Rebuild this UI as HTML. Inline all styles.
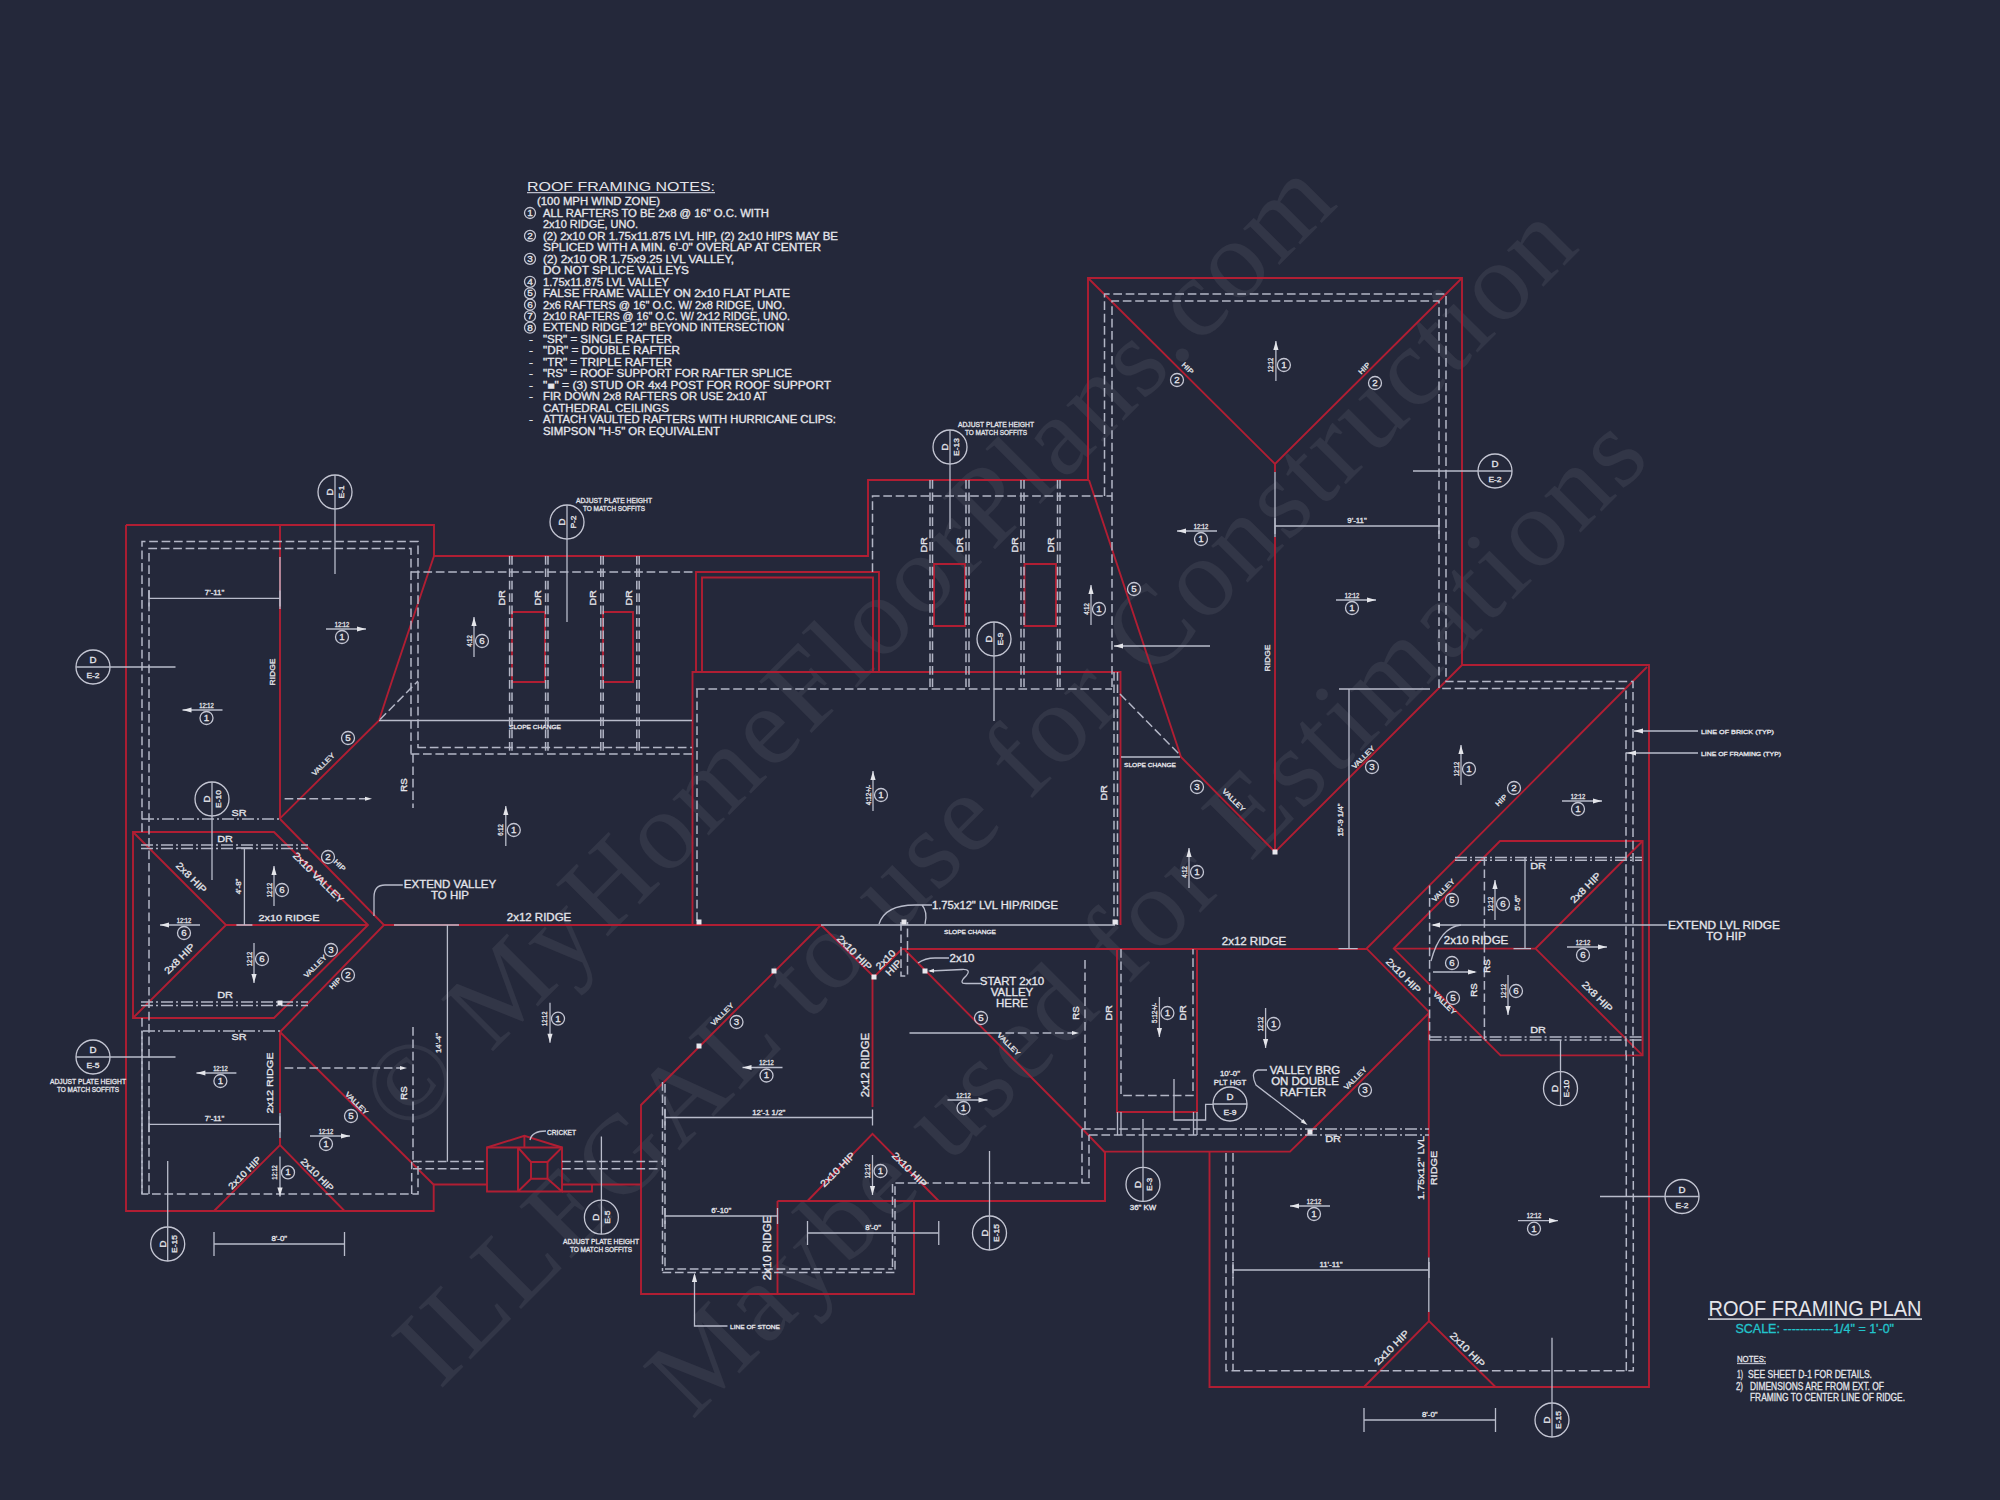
<!DOCTYPE html>
<html><head><meta charset="utf-8"><title>Roof Framing Plan</title>
<style>
html,body{margin:0;padding:0;background:#24283a;}
body{width:2000px;height:1500px;overflow:hidden;}
svg{display:block;}
.r{fill:none;stroke:#b01e33;stroke-width:1.9;stroke-linejoin:miter;}
.d{fill:none;stroke:#b3b6c6;stroke-width:1.5;stroke-dasharray:8.7 3.7;}
.dd{fill:none;stroke:#b3b6c6;stroke-width:1.5;stroke-dasharray:12 3 2 3;}
.w{fill:none;stroke:#b9bccb;stroke-width:1.3;}
.c{fill:none;stroke:#c4c6d3;stroke-width:1.3;}
.t{font-family:"Liberation Sans",sans-serif;fill:#e4e5ea;stroke:#e4e5ea;stroke-width:0.3;}
.tn{font-family:"Liberation Sans",sans-serif;fill:#e4e5ea;}
.wm{font-family:"Liberation Serif",serif;fill:#ffffff;fill-opacity:0.065;}
.cy{font-family:"Liberation Sans",sans-serif;fill:#22c4cc;stroke:#22c4cc;stroke-width:0.3;}
</style></head>
<body>
<svg width="2000" height="1500" viewBox="0 0 2000 1500">
<rect width="2000" height="1500" fill="#24283a"/>
<text x="405.9" y="1138.4" font-size="112" textLength="1320" lengthAdjust="spacing" class="wm" transform="rotate(-45 405.9 1138.4)">© MyHomeFloorPlans.com</text>
<text x="439.8" y="1390.2" font-size="112" textLength="1614" lengthAdjust="spacing" class="wm" transform="rotate(-45 439.8 1390.2)">ILLEGAL to use for Construction</text>
<text x="692.3" y="1420.6" font-size="112" textLength="1357" lengthAdjust="spacing" class="wm" transform="rotate(-45 692.3 1420.6)">Maybe used for Estimations</text>
<text x="527" y="190.6" font-size="13.5" text-anchor="start" class="tn" textLength="188" lengthAdjust="spacingAndGlyphs">ROOF FRAMING NOTES:</text>
<path d="M527,192.6H715" class="w"/>
<text x="537" y="205.3" font-size="10" text-anchor="start" class="t" textLength="123" lengthAdjust="spacingAndGlyphs">(100 MPH WIND ZONE)</text>
<text x="543" y="216.77" font-size="10" text-anchor="start" class="t" textLength="226" lengthAdjust="spacingAndGlyphs">ALL RAFTERS TO BE 2x8 @ 16" O.C. WITH</text>
<circle cx="530" cy="213.0" r="5.5" class="c"/>
<text x="530" y="215.97" font-size="8.964000000000002" text-anchor="middle" class="t" textLength="5.6" lengthAdjust="spacingAndGlyphs">1</text>
<text x="543" y="228.24" font-size="10" text-anchor="start" class="t" textLength="95" lengthAdjust="spacingAndGlyphs">2x10 RIDGE, UNO.</text>
<text x="543" y="239.71" font-size="10" text-anchor="start" class="t" textLength="295" lengthAdjust="spacingAndGlyphs">(2) 2x10 OR 1.75x11.875 LVL HIP, (2) 2x10 HIPS MAY BE</text>
<circle cx="530" cy="235.9" r="5.5" class="c"/>
<text x="530" y="238.91" font-size="8.964000000000002" text-anchor="middle" class="t" textLength="5.6" lengthAdjust="spacingAndGlyphs">2</text>
<text x="543" y="251.18" font-size="10" text-anchor="start" class="t" textLength="278" lengthAdjust="spacingAndGlyphs">SPLICED WITH A MIN. 6'-0" OVERLAP AT CENTER</text>
<text x="543" y="262.65000000000003" font-size="10" text-anchor="start" class="t" textLength="191" lengthAdjust="spacingAndGlyphs">(2) 2x10 OR 1.75x9.25 LVL VALLEY,</text>
<circle cx="530" cy="258.9" r="5.5" class="c"/>
<text x="530" y="261.85" font-size="8.964000000000002" text-anchor="middle" class="t" textLength="5.6" lengthAdjust="spacingAndGlyphs">3</text>
<text x="543" y="274.12" font-size="10" text-anchor="start" class="t" textLength="146" lengthAdjust="spacingAndGlyphs">DO NOT SPLICE VALLEYS</text>
<text x="543" y="285.59000000000003" font-size="10" text-anchor="start" class="t" textLength="126" lengthAdjust="spacingAndGlyphs">1.75x11.875 LVL VALLEY</text>
<circle cx="530" cy="281.8" r="5.5" class="c"/>
<text x="530" y="284.79" font-size="8.964000000000002" text-anchor="middle" class="t" textLength="5.6" lengthAdjust="spacingAndGlyphs">4</text>
<text x="543" y="297.06" font-size="10" text-anchor="start" class="t" textLength="247" lengthAdjust="spacingAndGlyphs">FALSE FRAME VALLEY ON 2x10 FLAT PLATE</text>
<circle cx="530" cy="293.3" r="5.5" class="c"/>
<text x="530" y="296.26" font-size="8.964000000000002" text-anchor="middle" class="t" textLength="5.6" lengthAdjust="spacingAndGlyphs">5</text>
<text x="543" y="308.53000000000003" font-size="10" text-anchor="start" class="t" textLength="242" lengthAdjust="spacingAndGlyphs">2x6 RAFTERS @ 16" O.C. W/ 2x8 RIDGE, UNO.</text>
<circle cx="530" cy="304.7" r="5.5" class="c"/>
<text x="530" y="307.73" font-size="8.964000000000002" text-anchor="middle" class="t" textLength="5.6" lengthAdjust="spacingAndGlyphs">6</text>
<text x="543" y="320.0" font-size="10" text-anchor="start" class="t" textLength="247" lengthAdjust="spacingAndGlyphs">2x10 RAFTERS @ 16" O.C. W/ 2x12 RIDGE, UNO.</text>
<circle cx="530" cy="316.2" r="5.5" class="c"/>
<text x="530" y="319.2" font-size="8.964000000000002" text-anchor="middle" class="t" textLength="5.6" lengthAdjust="spacingAndGlyphs">7</text>
<text x="543" y="331.47" font-size="10" text-anchor="start" class="t" textLength="241" lengthAdjust="spacingAndGlyphs">EXTEND RIDGE 12" BEYOND INTERSECTION</text>
<circle cx="530" cy="327.7" r="5.5" class="c"/>
<text x="530" y="330.67" font-size="8.964000000000002" text-anchor="middle" class="t" textLength="5.6" lengthAdjust="spacingAndGlyphs">8</text>
<text x="543" y="342.94" font-size="10" text-anchor="start" class="t" textLength="129" lengthAdjust="spacingAndGlyphs">"SR" = SINGLE RAFTER</text>
<text x="531" y="342.94" font-size="10.8" text-anchor="middle" class="t" textLength="4.0" lengthAdjust="spacingAndGlyphs">-</text>
<text x="543" y="354.41" font-size="10" text-anchor="start" class="t" textLength="137" lengthAdjust="spacingAndGlyphs">"DR" = DOUBLE RAFTER</text>
<text x="531" y="354.41" font-size="10.8" text-anchor="middle" class="t" textLength="4.0" lengthAdjust="spacingAndGlyphs">-</text>
<text x="543" y="365.88000000000005" font-size="10" text-anchor="start" class="t" textLength="129" lengthAdjust="spacingAndGlyphs">"TR" = TRIPLE RAFTER</text>
<text x="531" y="365.88000000000005" font-size="10.8" text-anchor="middle" class="t" textLength="4.0" lengthAdjust="spacingAndGlyphs">-</text>
<text x="543" y="377.35" font-size="10" text-anchor="start" class="t" textLength="249" lengthAdjust="spacingAndGlyphs">"RS" = ROOF SUPPORT FOR RAFTER SPLICE</text>
<text x="531" y="377.35" font-size="10.8" text-anchor="middle" class="t" textLength="4.0" lengthAdjust="spacingAndGlyphs">-</text>
<text x="543" y="388.82" font-size="10" text-anchor="start" class="t" textLength="288" lengthAdjust="spacingAndGlyphs">"■"   = (3) STUD OR 4x4 POST FOR ROOF SUPPORT</text>
<text x="531" y="388.82" font-size="10.8" text-anchor="middle" class="t" textLength="4.0" lengthAdjust="spacingAndGlyphs">-</text>
<text x="543" y="400.29" font-size="10" text-anchor="start" class="t" textLength="224" lengthAdjust="spacingAndGlyphs">FIR DOWN 2x8 RAFTERS OR USE 2x10 AT</text>
<text x="531" y="400.29" font-size="10.8" text-anchor="middle" class="t" textLength="4.0" lengthAdjust="spacingAndGlyphs">-</text>
<text x="543" y="411.76000000000005" font-size="10" text-anchor="start" class="t" textLength="126" lengthAdjust="spacingAndGlyphs">CATHEDRAL CEILINGS</text>
<text x="543" y="423.23" font-size="10" text-anchor="start" class="t" textLength="293" lengthAdjust="spacingAndGlyphs">ATTACH VAULTED RAFTERS WITH HURRICANE CLIPS:</text>
<text x="531" y="423.23" font-size="10.8" text-anchor="middle" class="t" textLength="4.0" lengthAdjust="spacingAndGlyphs">-</text>
<text x="543" y="434.7" font-size="10" text-anchor="start" class="t" textLength="177" lengthAdjust="spacingAndGlyphs">SIMPSON "H-5" OR EQUIVALENT</text>
<path d="M126,525V1211H433.7V1184.8" class="r"/>
<path d="M126,525H434V556H868V480H1089" class="r"/>
<path d="M280,525V819" class="r"/>
<path d="M434,556Q392,680 379,720.5L280,818.4" class="r"/>
<path d="M380,719.5L418,681" class="d"/>
<path d="M274,832H133V1018H274L368,925Z" class="r"/>
<path d="M133,832L226,925L133,1018" class="r"/>
<path d="M226,925H368" class="r"/>
<path d="M280,819L384,925L280,1032" class="r"/>
<path d="M280,1032V1113M280,1138V1145" class="r"/>
<path d="M214,1211L280,1145L344.5,1211" class="r"/>
<path d="M280,1032L434,1185" class="r"/>
<path d="M433.7,1184.5H487M562,1184.5H641M562,1191.5H592V1184.5" class="r"/>
<path d="M487,1147.5H562V1191.5H487Z" class="r"/>
<path d="M518,1147.5V1191.5" class="r"/>
<path d="M531,1162H547.5V1178.7H531Z" class="r"/>
<path d="M518,1147.5L531,1162M562,1147.5L547.5,1162M518,1191.5L531,1178.7M562,1191.5L547.5,1178.7" class="r"/>
<path d="M487,1147.5L524.4,1135.8L562,1147.5M524.4,1135.8V1147.5" class="r"/>
<path d="M512,612H545V682H512Z" class="r"/>
<path d="M603,612H633V682H603Z" class="r"/>
<path d="M696,672V572H879V672M702,672V577.5H873V672" class="r"/>
<path d="M692.5,925V672H1120.5V925" class="r"/>
<path d="M934,564H965V626H934Z" class="r"/>
<path d="M1024.5,564H1056V626H1024.5Z" class="r"/>
<path d="M1088,480V278H1462V665H1649V1387H1209.5V1151.6" class="r"/>
<path d="M1088,278L1275,464L1462,278" class="r"/>
<path d="M1275,464V472M1275,537V852" class="r"/>
<path d="M1089,480L1181,757L1275,852L1462,665" class="r"/>
<path d="M384,925H821" class="r"/>
<path d="M821,925L641,1105V1294H914V1201" class="r"/>
<path d="M777.5,1201H1105V1152.5L1082.5,1129L905,950" class="r"/>
<path d="M777.5,1201V1294" class="r"/>
<path d="M807.5,1201L872.5,1133.75L938.75,1201" class="r"/>
<path d="M872.5,977V1107" class="r"/>
<path d="M821,925L874,977L902,949" class="r"/>
<path d="M902,949H1367" class="r"/>
<path d="M1647,667L1366.6,948.6L1428.8,1011.6" class="r"/>
<path d="M1500,841H1642.6V1055.4H1500.5L1393.8,948.6Z" class="r"/>
<path d="M1393.8,948.6H1535.5" class="r"/>
<path d="M1642.6,841L1535.5,948.6L1642.6,1055.4" class="r"/>
<path d="M1428.8,1011.6V1257.6M1428.8,1312V1321" class="r"/>
<path d="M1364,1387L1429,1321L1495.5,1387" class="r"/>
<path d="M1429,1013L1310,1132L1290,1151.6H1105V1201" class="r"/>
<path d="M1117,949V1112H1197V949" class="r"/>
<path d="M142,1194V1031M142,832V541.6H418V747.5" class="d"/>
<path d="M149,1194V548.6H411V754" class="d"/>
<path d="M142,1018V1194H418V1161.7M411.7,1194V1161.7" class="d"/>
<path d="M142,819H280" class="dd"/>
<path d="M141,845H308M141,848.5H308" class="dd"/>
<path d="M141,1002H308M141,1005.5H308" class="dd"/>
<path d="M143,1031H280" class="dd"/>
<path d="M413,1027V1161.7" class="d"/>
<path d="M284.6,798.8H368" class="d"/>
<path d="M372.0,798.8L365.0,800.8L365.0,796.8Z" fill="#e4e5ea"/>
<path d="M284.6,1068H403" class="d"/>
<path d="M407.0,1068.0L400.0,1070.0L400.0,1066.0Z" fill="#e4e5ea"/>
<path d="M411,572H696" class="d"/>
<path d="M417.4,747.5H692M410.6,754H692" class="d"/>
<path d="M509.6,556V754" class="d"/>
<path d="M512,556V754" class="d"/>
<path d="M545.6,556V754" class="d"/>
<path d="M548,556V754" class="d"/>
<path d="M600.8,556V754" class="d"/>
<path d="M603.2,556V754" class="d"/>
<path d="M636.8,556V754" class="d"/>
<path d="M639.2,556V754" class="d"/>
<path d="M413,754V808" class="d"/>
<path d="M872.5,572V496H1112" class="d"/>
<path d="M696,689H1112" class="d"/>
<path d="M697,689V922" class="d"/>
<path d="M930,480V689" class="d"/>
<path d="M932.5,480V689" class="d"/>
<path d="M966,480V689" class="d"/>
<path d="M969,480V689" class="d"/>
<path d="M1021,480V689" class="d"/>
<path d="M1024,480V689" class="d"/>
<path d="M1057.5,480V689" class="d"/>
<path d="M1060,480V689" class="d"/>
<path d="M1104.5,496V294H1446V681.6H1633V1055" class="d"/>
<path d="M1112,687V301H1439V688.4H1626V1055" class="d"/>
<path d="M1114,672V925M1117.5,672V925" class="d"/>
<path d="M1120,694L1180,755" class="d"/>
<path d="M1121,949V1095.6H1193V949" class="d"/>
<path d="M901,922V976H907.5V922" class="d"/>
<path d="M909.5,1033H993" class="w"/>
<path d="M993,1033H1075" class="d"/>
<path d="M1079.0,1033.0L1072.0,1035.0L1072.0,1031.0Z" fill="#e4e5ea"/>
<path d="M1085,960V1129" class="d"/>
<path d="M662.5,1082V1271M665,1084V1269" class="d"/>
<path d="M662.5,1272.5H895V1183H1089V1135" class="d"/>
<path d="M665,1269H892.5" class="d"/>
<path d="M892.5,1184V1269" class="d"/>
<path d="M413,1161.5H487M562,1161.5H662M413,1168.8H487M562,1168.8H662" class="d"/>
<path d="M1082,1129H1225M1089,1135H1225" class="d"/>
<path d="M1225,1129H1429M1225,1135H1429" class="dd"/>
<path d="M1082,1129V1183" class="d"/>
<path d="M1117.5,1112V1135M1121,1112V1135M1193.5,1112V1135M1197,1112V1135" fill="none" stroke="#b3b6c6" stroke-width="1.3"/>
<path d="M1226,1153V1370.7H1633.3V1055M1233,1153V1370.7M1626.3,1370.7V1055" class="d"/>
<path d="M1455,857.6H1642M1455,860.3H1642" class="dd"/>
<path d="M1429.6,1037H1642M1429.6,1040H1642" class="dd"/>
<path d="M1429.6,885.6V1040" class="d"/>
<path d="M1484.4,857V1040" class="d"/>
<path d="M1275,472V537" class="w"/>
<path d="M280,1113V1138" class="w"/>
<path d="M821,925H1115" class="w"/>
<path d="M379,720.5H692" class="w"/>
<path d="M1121,757H1180" class="w"/>
<path d="M394,925H459" class="w"/>
<path d="M1428.8,1257.6V1312" class="w"/>
<rect x="696.5" y="919.5" width="5" height="5" fill="#e8e8ee"/>
<rect x="901.5" y="919.5" width="5" height="5" fill="#e8e8ee"/>
<rect x="1112.5" y="919.5" width="5" height="5" fill="#e8e8ee"/>
<rect x="277.5" y="1000.5" width="5" height="5" fill="#e8e8ee"/>
<rect x="771.5" y="968.5" width="5" height="5" fill="#e8e8ee"/>
<rect x="696.5" y="1043.5" width="5" height="5" fill="#e8e8ee"/>
<rect x="871.5" y="974.5" width="5" height="5" fill="#e8e8ee"/>
<rect x="922.5" y="968.5" width="5" height="5" fill="#e8e8ee"/>
<rect x="1272.5" y="849.5" width="5" height="5" fill="#e8e8ee"/>
<rect x="1307.5" y="1129.5" width="5" height="5" fill="#e8e8ee"/>
<path d="M149,598.4H280" class="w"/>
<path d="M149,590.4V606.4M280,590.4V606.4" class="w"/>
<text x="214.5" y="595.4" font-size="7.0200000000000005" text-anchor="middle" class="t" textLength="19.4" lengthAdjust="spacingAndGlyphs">7'-11"</text>
<path d="M280,557V609" class="w"/>
<path d="M244.4,848V925" class="w"/>
<path d="M236.4,848H252.4M236.4,925H252.4" class="w"/>
<text x="241.4" y="886.5" font-size="7.0200000000000005" text-anchor="middle" class="t" textLength="15.7" lengthAdjust="spacingAndGlyphs" transform="rotate(-90 241.4 886.5)">4'-8"</text>
<path d="M149,1124.3H280" class="w"/>
<path d="M149,1116.3V1132.3M280,1116.3V1132.3" class="w"/>
<text x="214.5" y="1121.3" font-size="7.0200000000000005" text-anchor="middle" class="t" textLength="19.4" lengthAdjust="spacingAndGlyphs">7'-11"</text>
<path d="M214,1244H344.5" class="w"/>
<path d="M214,1232V1256M344.5,1232V1256" class="w"/>
<text x="279.25" y="1241" font-size="7.0200000000000005" text-anchor="middle" class="t" textLength="15.7" lengthAdjust="spacingAndGlyphs">8'-0"</text>
<path d="M447.4,925V1161.7" class="w"/>
<text x="441" y="1043" font-size="7.0200000000000005" text-anchor="middle" class="t" textLength="20.0" lengthAdjust="spacingAndGlyphs" transform="rotate(-90 441 1043)">14'-4"</text>
<path d="M1275,526H1439" class="w"/>
<path d="M1275,518V534M1439,518V534" class="w"/>
<text x="1357.0" y="523" font-size="7.0200000000000005" text-anchor="middle" class="t" textLength="19.4" lengthAdjust="spacingAndGlyphs">9'-11"</text>
<path d="M1339,689H1430M1349,689V949" class="w"/>
<text x="1343" y="820" font-size="7.0200000000000005" text-anchor="middle" class="t" textLength="33.1" lengthAdjust="spacingAndGlyphs" transform="rotate(-90 1343 820)">15'-9 1/4"</text>
<path d="M665,1117.5H872.5" class="w"/>
<path d="M665,1109.5V1125.5M872.5,1109.5V1125.5" class="w"/>
<text x="768.75" y="1114.5" font-size="7.0200000000000005" text-anchor="middle" class="t" textLength="33.1" lengthAdjust="spacingAndGlyphs">12'-1 1/2"</text>
<path d="M665,1216H777.5" class="w"/>
<path d="M665,1208V1224M777.5,1208V1224" class="w"/>
<text x="721.25" y="1213" font-size="7.0200000000000005" text-anchor="middle" class="t" textLength="20.0" lengthAdjust="spacingAndGlyphs">6'-10"</text>
<path d="M807.5,1233H938.75" class="w"/>
<path d="M807.5,1221V1245M938.75,1221V1245" class="w"/>
<text x="873.125" y="1230" font-size="7.0200000000000005" text-anchor="middle" class="t" textLength="15.7" lengthAdjust="spacingAndGlyphs">8'-0"</text>
<path d="M1233,1270H1429" class="w"/>
<path d="M1233,1262V1278M1429,1262V1278" class="w"/>
<text x="1331.0" y="1267" font-size="7.0200000000000005" text-anchor="middle" class="t" textLength="23.2" lengthAdjust="spacingAndGlyphs">11'-11"</text>
<path d="M1364,1420H1495.5" class="w"/>
<path d="M1364,1408V1432M1495.5,1408V1432" class="w"/>
<text x="1429.75" y="1417" font-size="7.0200000000000005" text-anchor="middle" class="t" textLength="15.7" lengthAdjust="spacingAndGlyphs">8'-0"</text>
<path d="M1525,857V948" class="w"/>
<text x="1520" y="903" font-size="7.0200000000000005" text-anchor="middle" class="t" textLength="15.7" lengthAdjust="spacingAndGlyphs" transform="rotate(-90 1520 903)">5'-6"</text>
<circle cx="335" cy="492" r="17" class="c"/>
<path d="M335,475V509" class="w"/>
<text x="330" y="492" font-size="8.64" text-anchor="middle" class="t" textLength="7.0" lengthAdjust="spacingAndGlyphs" transform="rotate(-90 330 492)" dy="3">D</text>
<text x="341" y="492" font-size="7.5600000000000005" text-anchor="middle" class="t" textLength="13.2" lengthAdjust="spacingAndGlyphs" transform="rotate(-90 341 492)" dy="3">E-1</text>
<path d="M335,509V574" class="w"/>
<circle cx="93" cy="667" r="17" class="c"/>
<path d="M76,667H110" class="w"/>
<text x="93" y="663" font-size="8.64" text-anchor="middle" class="t" textLength="7.0" lengthAdjust="spacingAndGlyphs">D</text>
<text x="93" y="678" font-size="7.5600000000000005" text-anchor="middle" class="t" textLength="13.2" lengthAdjust="spacingAndGlyphs">E-2</text>
<path d="M110,667H175.5" class="w"/>
<circle cx="212" cy="799" r="17" class="c"/>
<path d="M212,782V816" class="w"/>
<text x="207" y="799" font-size="8.64" text-anchor="middle" class="t" textLength="7.0" lengthAdjust="spacingAndGlyphs" transform="rotate(-90 207 799)" dy="3">D</text>
<text x="218" y="799" font-size="7.5600000000000005" text-anchor="middle" class="t" textLength="17.9" lengthAdjust="spacingAndGlyphs" transform="rotate(-90 218 799)" dy="3">E-10</text>
<path d="M212,816V880" class="w"/>
<circle cx="93" cy="1057" r="17" class="c"/>
<path d="M76,1057H110" class="w"/>
<text x="93" y="1053" font-size="8.64" text-anchor="middle" class="t" textLength="7.0" lengthAdjust="spacingAndGlyphs">D</text>
<text x="93" y="1068" font-size="7.5600000000000005" text-anchor="middle" class="t" textLength="13.2" lengthAdjust="spacingAndGlyphs">E-5</text>
<path d="M110,1057H175.5" class="w"/>
<circle cx="167.7" cy="1244" r="17" class="c"/>
<path d="M167.7,1227V1261" class="w"/>
<text x="162.7" y="1244" font-size="8.64" text-anchor="middle" class="t" textLength="7.0" lengthAdjust="spacingAndGlyphs" transform="rotate(-90 162.7 1244)" dy="3">D</text>
<text x="173.7" y="1244" font-size="7.5600000000000005" text-anchor="middle" class="t" textLength="17.9" lengthAdjust="spacingAndGlyphs" transform="rotate(-90 173.7 1244)" dy="3">E-15</text>
<path d="M167.7,1161V1227" class="w"/>
<circle cx="567" cy="522" r="17" class="c"/>
<path d="M567,505V539" class="w"/>
<text x="562" y="522" font-size="8.64" text-anchor="middle" class="t" textLength="7.0" lengthAdjust="spacingAndGlyphs" transform="rotate(-90 562 522)" dy="3">D</text>
<text x="573" y="522" font-size="7.5600000000000005" text-anchor="middle" class="t" textLength="13.2" lengthAdjust="spacingAndGlyphs" transform="rotate(-90 573 522)" dy="3">P-2</text>
<path d="M567,539V622" class="w"/>
<circle cx="950" cy="447" r="17" class="c"/>
<path d="M950,430V464" class="w"/>
<text x="945" y="447" font-size="8.64" text-anchor="middle" class="t" textLength="7.0" lengthAdjust="spacingAndGlyphs" transform="rotate(-90 945 447)" dy="3">D</text>
<text x="956" y="447" font-size="7.5600000000000005" text-anchor="middle" class="t" textLength="17.9" lengthAdjust="spacingAndGlyphs" transform="rotate(-90 956 447)" dy="3">E-13</text>
<path d="M950,464V529" class="w"/>
<circle cx="994" cy="639" r="17" class="c"/>
<path d="M994,622V656" class="w"/>
<text x="989" y="639" font-size="8.64" text-anchor="middle" class="t" textLength="7.0" lengthAdjust="spacingAndGlyphs" transform="rotate(-90 989 639)" dy="3">D</text>
<text x="1000" y="639" font-size="7.5600000000000005" text-anchor="middle" class="t" textLength="13.2" lengthAdjust="spacingAndGlyphs" transform="rotate(-90 1000 639)" dy="3">E-9</text>
<path d="M994,656V721" class="w"/>
<circle cx="1495" cy="471" r="17" class="c"/>
<path d="M1478,471H1512" class="w"/>
<text x="1495" y="467" font-size="8.64" text-anchor="middle" class="t" textLength="7.0" lengthAdjust="spacingAndGlyphs">D</text>
<text x="1495" y="482" font-size="7.5600000000000005" text-anchor="middle" class="t" textLength="13.2" lengthAdjust="spacingAndGlyphs">E-2</text>
<path d="M1413,471H1478" class="w"/>
<circle cx="601.4" cy="1217.2" r="17" class="c"/>
<path d="M601.4,1200.2V1234.2" class="w"/>
<text x="596.4" y="1217.2" font-size="8.64" text-anchor="middle" class="t" textLength="7.0" lengthAdjust="spacingAndGlyphs" transform="rotate(-90 596.4 1217.2)" dy="3">D</text>
<text x="607.4" y="1217.2" font-size="7.5600000000000005" text-anchor="middle" class="t" textLength="13.2" lengthAdjust="spacingAndGlyphs" transform="rotate(-90 607.4 1217.2)" dy="3">E-5</text>
<path d="M601.4,1136.5V1200" class="w"/>
<circle cx="989.5" cy="1233" r="17" class="c"/>
<path d="M989.5,1216V1250" class="w"/>
<text x="984.5" y="1233" font-size="8.64" text-anchor="middle" class="t" textLength="7.0" lengthAdjust="spacingAndGlyphs" transform="rotate(-90 984.5 1233)" dy="3">D</text>
<text x="995.5" y="1233" font-size="7.5600000000000005" text-anchor="middle" class="t" textLength="17.9" lengthAdjust="spacingAndGlyphs" transform="rotate(-90 995.5 1233)" dy="3">E-15</text>
<path d="M989.5,1151V1216" class="w"/>
<circle cx="1230" cy="1104" r="17" class="c"/>
<path d="M1213,1104H1247" class="w"/>
<text x="1230" y="1100" font-size="8.64" text-anchor="middle" class="t" textLength="7.0" lengthAdjust="spacingAndGlyphs">D</text>
<text x="1230" y="1115" font-size="7.5600000000000005" text-anchor="middle" class="t" textLength="13.2" lengthAdjust="spacingAndGlyphs">E-9</text>
<path d="M1174,1079V1120H1205.6V1104.4H1213" class="w"/>
<circle cx="1143" cy="1184.4" r="17" class="c"/>
<path d="M1143,1167.4V1201.4" class="w"/>
<text x="1138" y="1184.4" font-size="8.64" text-anchor="middle" class="t" textLength="7.0" lengthAdjust="spacingAndGlyphs" transform="rotate(-90 1138 1184.4)" dy="3">D</text>
<text x="1149" y="1184.4" font-size="7.5600000000000005" text-anchor="middle" class="t" textLength="13.2" lengthAdjust="spacingAndGlyphs" transform="rotate(-90 1149 1184.4)" dy="3">E-3</text>
<path d="M1143,1119V1167" class="w"/>
<circle cx="1560.5" cy="1088.6" r="17" class="c"/>
<path d="M1560.5,1071.6V1105.6" class="w"/>
<text x="1555.5" y="1088.6" font-size="8.64" text-anchor="middle" class="t" textLength="7.0" lengthAdjust="spacingAndGlyphs" transform="rotate(-90 1555.5 1088.6)" dy="3">D</text>
<text x="1566.5" y="1088.6" font-size="7.5600000000000005" text-anchor="middle" class="t" textLength="17.9" lengthAdjust="spacingAndGlyphs" transform="rotate(-90 1566.5 1088.6)" dy="3">E-10</text>
<path d="M1560.5,1040V1071" class="w"/>
<circle cx="1682" cy="1196.5" r="17" class="c"/>
<path d="M1665,1196.5H1699" class="w"/>
<text x="1682" y="1192.5" font-size="8.64" text-anchor="middle" class="t" textLength="7.0" lengthAdjust="spacingAndGlyphs">D</text>
<text x="1682" y="1207.5" font-size="7.5600000000000005" text-anchor="middle" class="t" textLength="13.2" lengthAdjust="spacingAndGlyphs">E-2</text>
<path d="M1600,1196.5H1665" class="w"/>
<circle cx="1552" cy="1420" r="17" class="c"/>
<path d="M1552,1403V1437" class="w"/>
<text x="1547" y="1420" font-size="8.64" text-anchor="middle" class="t" textLength="7.0" lengthAdjust="spacingAndGlyphs" transform="rotate(-90 1547 1420)" dy="3">D</text>
<text x="1558" y="1420" font-size="7.5600000000000005" text-anchor="middle" class="t" textLength="17.9" lengthAdjust="spacingAndGlyphs" transform="rotate(-90 1558 1420)" dy="3">E-15</text>
<path d="M1552,1337.7V1403" class="w"/>
<text x="88" y="1084" font-size="7" text-anchor="middle" class="t" textLength="76" lengthAdjust="spacingAndGlyphs">ADJUST PLATE HEIGHT</text>
<text x="88" y="1092" font-size="7" text-anchor="middle" class="t" textLength="62" lengthAdjust="spacingAndGlyphs">TO MATCH SOFFITS</text>
<text x="614" y="503" font-size="7" text-anchor="middle" class="t" textLength="76" lengthAdjust="spacingAndGlyphs">ADJUST PLATE HEIGHT</text>
<text x="614" y="511" font-size="7" text-anchor="middle" class="t" textLength="62" lengthAdjust="spacingAndGlyphs">TO MATCH SOFFITS</text>
<text x="996" y="427" font-size="7" text-anchor="middle" class="t" textLength="76" lengthAdjust="spacingAndGlyphs">ADJUST PLATE HEIGHT</text>
<text x="996" y="435" font-size="7" text-anchor="middle" class="t" textLength="62" lengthAdjust="spacingAndGlyphs">TO MATCH SOFFITS</text>
<text x="601" y="1244" font-size="7" text-anchor="middle" class="t" textLength="76" lengthAdjust="spacingAndGlyphs">ADJUST PLATE HEIGHT</text>
<text x="601" y="1252" font-size="7" text-anchor="middle" class="t" textLength="62" lengthAdjust="spacingAndGlyphs">TO MATCH SOFFITS</text>
<path d="M326,629H366" class="w"/>
<path d="M366.0,629.0L357.0,631.6L357.0,626.4Z" fill="#e4e5ea"/>
<text x="342.0" y="626.5" font-size="6.5" text-anchor="middle" class="t" textLength="14.5" lengthAdjust="spacingAndGlyphs">12:12</text>
<circle cx="342.0" cy="637" r="6.5" class="c"/>
<text x="342.0" y="639.88" font-size="8.64" text-anchor="middle" class="t" textLength="5.4" lengthAdjust="spacingAndGlyphs">1</text>
<path d="M182.5,710H222.5" class="w"/>
<path d="M182.5,710.0L191.5,707.4L191.5,712.6Z" fill="#e4e5ea"/>
<text x="206.5" y="707.5" font-size="6.5" text-anchor="middle" class="t" textLength="14.5" lengthAdjust="spacingAndGlyphs">12:12</text>
<circle cx="206.5" cy="718" r="6.5" class="c"/>
<text x="206.5" y="720.88" font-size="8.64" text-anchor="middle" class="t" textLength="5.4" lengthAdjust="spacingAndGlyphs">1</text>
<path d="M160,925H200" class="w"/>
<path d="M160.0,925.0L169.0,922.4L169.0,927.6Z" fill="#e4e5ea"/>
<text x="184.0" y="922.5" font-size="6.5" text-anchor="middle" class="t" textLength="14.5" lengthAdjust="spacingAndGlyphs">12:12</text>
<circle cx="184.0" cy="933" r="6.5" class="c"/>
<text x="184.0" y="935.88" font-size="8.64" text-anchor="middle" class="t" textLength="5.4" lengthAdjust="spacingAndGlyphs">6</text>
<path d="M274,866V906" class="w"/>
<path d="M274.0,866.0L276.6,875.0L271.4,875.0Z" fill="#e4e5ea"/>
<text x="271.5" y="890.0" font-size="6.5" text-anchor="middle" class="t" textLength="14.5" lengthAdjust="spacingAndGlyphs" transform="rotate(-90 271.5 890.0)">12:12</text>
<circle cx="282" cy="890.0" r="6.5" class="c"/>
<text x="282" y="892.88" font-size="8.64" text-anchor="middle" class="t" textLength="5.4" lengthAdjust="spacingAndGlyphs">6</text>
<path d="M254,943V983" class="w"/>
<path d="M254.0,983.0L251.4,974.0L256.6,974.0Z" fill="#e4e5ea"/>
<text x="251.5" y="959.0" font-size="6.5" text-anchor="middle" class="t" textLength="14.5" lengthAdjust="spacingAndGlyphs" transform="rotate(-90 251.5 959.0)">12:12</text>
<circle cx="262" cy="959.0" r="6.5" class="c"/>
<text x="262" y="961.88" font-size="8.64" text-anchor="middle" class="t" textLength="5.4" lengthAdjust="spacingAndGlyphs">6</text>
<path d="M196.4,1073H236.4" class="w"/>
<path d="M196.4,1073.0L205.4,1070.4L205.4,1075.6Z" fill="#e4e5ea"/>
<text x="220.4" y="1070.5" font-size="6.5" text-anchor="middle" class="t" textLength="14.5" lengthAdjust="spacingAndGlyphs">12:12</text>
<circle cx="220.4" cy="1081" r="6.5" class="c"/>
<text x="220.4" y="1083.88" font-size="8.64" text-anchor="middle" class="t" textLength="5.4" lengthAdjust="spacingAndGlyphs">1</text>
<path d="M310,1136H350" class="w"/>
<path d="M350.0,1136.0L341.0,1138.6L341.0,1133.4Z" fill="#e4e5ea"/>
<text x="326.0" y="1133.5" font-size="6.5" text-anchor="middle" class="t" textLength="14.5" lengthAdjust="spacingAndGlyphs">12:12</text>
<circle cx="326.0" cy="1144" r="6.5" class="c"/>
<text x="326.0" y="1146.88" font-size="8.64" text-anchor="middle" class="t" textLength="5.4" lengthAdjust="spacingAndGlyphs">1</text>
<path d="M280,1156.4V1196.4" class="w"/>
<path d="M280.0,1196.4L277.4,1187.4L282.6,1187.4Z" fill="#e4e5ea"/>
<text x="277.5" y="1172.4" font-size="6.5" text-anchor="middle" class="t" textLength="14.5" lengthAdjust="spacingAndGlyphs" transform="rotate(-90 277.5 1172.4)">12:12</text>
<circle cx="288" cy="1172.4" r="6.5" class="c"/>
<text x="288" y="1175.2800000000002" font-size="8.64" text-anchor="middle" class="t" textLength="5.4" lengthAdjust="spacingAndGlyphs">1</text>
<path d="M474,617V657" class="w"/>
<path d="M474.0,617.0L476.6,626.0L471.4,626.0Z" fill="#e4e5ea"/>
<text x="471.5" y="641.0" font-size="6.5" text-anchor="middle" class="t" textLength="11.6" lengthAdjust="spacingAndGlyphs" transform="rotate(-90 471.5 641.0)">4:12</text>
<circle cx="482" cy="641.0" r="6.5" class="c"/>
<text x="482" y="643.88" font-size="8.64" text-anchor="middle" class="t" textLength="5.4" lengthAdjust="spacingAndGlyphs">6</text>
<path d="M505.8,806V846" class="w"/>
<path d="M505.8,806.0L508.4,815.0L503.2,815.0Z" fill="#e4e5ea"/>
<text x="503.3" y="830.0" font-size="6.5" text-anchor="middle" class="t" textLength="11.6" lengthAdjust="spacingAndGlyphs" transform="rotate(-90 503.3 830.0)">6:12</text>
<circle cx="513.8" cy="830.0" r="6.5" class="c"/>
<text x="513.8" y="832.88" font-size="8.64" text-anchor="middle" class="t" textLength="5.4" lengthAdjust="spacingAndGlyphs">1</text>
<path d="M873,771V811" class="w"/>
<path d="M873.0,771.0L875.6,780.0L870.4,780.0Z" fill="#e4e5ea"/>
<text x="870.5" y="795.0" font-size="6.5" text-anchor="middle" class="t" textLength="20.3" lengthAdjust="spacingAndGlyphs" transform="rotate(-90 870.5 795.0)">4:12+/-</text>
<circle cx="881" cy="795.0" r="6.5" class="c"/>
<text x="881" y="797.88" font-size="8.64" text-anchor="middle" class="t" textLength="5.4" lengthAdjust="spacingAndGlyphs">1</text>
<path d="M1091,585V625" class="w"/>
<path d="M1091.0,585.0L1093.6,594.0L1088.4,594.0Z" fill="#e4e5ea"/>
<text x="1088.5" y="609.0" font-size="6.5" text-anchor="middle" class="t" textLength="11.6" lengthAdjust="spacingAndGlyphs" transform="rotate(-90 1088.5 609.0)">4:12</text>
<circle cx="1099" cy="609.0" r="6.5" class="c"/>
<text x="1099" y="611.88" font-size="8.64" text-anchor="middle" class="t" textLength="5.4" lengthAdjust="spacingAndGlyphs">1</text>
<path d="M1275.9,341V381" class="w"/>
<path d="M1275.9,341.0L1278.5,350.0L1273.3,350.0Z" fill="#e4e5ea"/>
<text x="1273.4" y="365.0" font-size="6.5" text-anchor="middle" class="t" textLength="14.5" lengthAdjust="spacingAndGlyphs" transform="rotate(-90 1273.4 365.0)">12:12</text>
<circle cx="1283.9" cy="365.0" r="6.5" class="c"/>
<text x="1283.9" y="367.88" font-size="8.64" text-anchor="middle" class="t" textLength="5.4" lengthAdjust="spacingAndGlyphs">1</text>
<path d="M1177,531H1217" class="w"/>
<path d="M1177.0,531.0L1186.0,528.4L1186.0,533.6Z" fill="#e4e5ea"/>
<text x="1201.0" y="528.5" font-size="6.5" text-anchor="middle" class="t" textLength="14.5" lengthAdjust="spacingAndGlyphs">12:12</text>
<circle cx="1201.0" cy="539" r="6.5" class="c"/>
<text x="1201.0" y="541.88" font-size="8.64" text-anchor="middle" class="t" textLength="5.4" lengthAdjust="spacingAndGlyphs">1</text>
<path d="M1336,600H1376" class="w"/>
<path d="M1376.0,600.0L1367.0,602.6L1367.0,597.4Z" fill="#e4e5ea"/>
<text x="1352.0" y="597.5" font-size="6.5" text-anchor="middle" class="t" textLength="14.5" lengthAdjust="spacingAndGlyphs">12:12</text>
<circle cx="1352.0" cy="608" r="6.5" class="c"/>
<text x="1352.0" y="610.88" font-size="8.64" text-anchor="middle" class="t" textLength="5.4" lengthAdjust="spacingAndGlyphs">1</text>
<path d="M1189,848V888" class="w"/>
<path d="M1189.0,848.0L1191.6,857.0L1186.4,857.0Z" fill="#e4e5ea"/>
<text x="1186.5" y="872.0" font-size="6.5" text-anchor="middle" class="t" textLength="11.6" lengthAdjust="spacingAndGlyphs" transform="rotate(-90 1186.5 872.0)">4:12</text>
<circle cx="1197" cy="872.0" r="6.5" class="c"/>
<text x="1197" y="874.88" font-size="8.64" text-anchor="middle" class="t" textLength="5.4" lengthAdjust="spacingAndGlyphs">1</text>
<path d="M1461,745V785" class="w"/>
<path d="M1461.0,745.0L1463.6,754.0L1458.4,754.0Z" fill="#e4e5ea"/>
<text x="1458.5" y="769.0" font-size="6.5" text-anchor="middle" class="t" textLength="14.5" lengthAdjust="spacingAndGlyphs" transform="rotate(-90 1458.5 769.0)">12:12</text>
<circle cx="1469" cy="769.0" r="6.5" class="c"/>
<text x="1469" y="771.88" font-size="8.64" text-anchor="middle" class="t" textLength="5.4" lengthAdjust="spacingAndGlyphs">1</text>
<path d="M1562,801H1602" class="w"/>
<path d="M1602.0,801.0L1593.0,803.6L1593.0,798.4Z" fill="#e4e5ea"/>
<text x="1578.0" y="798.5" font-size="6.5" text-anchor="middle" class="t" textLength="14.5" lengthAdjust="spacingAndGlyphs">12:12</text>
<circle cx="1578.0" cy="809" r="6.5" class="c"/>
<text x="1578.0" y="811.88" font-size="8.64" text-anchor="middle" class="t" textLength="5.4" lengthAdjust="spacingAndGlyphs">1</text>
<path d="M550,1002.7V1042.7" class="w"/>
<path d="M550.0,1042.7L547.4,1033.7L552.6,1033.7Z" fill="#e4e5ea"/>
<text x="547.5" y="1018.7" font-size="6.5" text-anchor="middle" class="t" textLength="14.5" lengthAdjust="spacingAndGlyphs" transform="rotate(-90 547.5 1018.7)">12:12</text>
<circle cx="558" cy="1018.7" r="6.5" class="c"/>
<text x="558" y="1021.58" font-size="8.64" text-anchor="middle" class="t" textLength="5.4" lengthAdjust="spacingAndGlyphs">1</text>
<path d="M742.5,1067.5H782.5" class="w"/>
<path d="M742.5,1067.5L751.5,1064.9L751.5,1070.1Z" fill="#e4e5ea"/>
<text x="766.5" y="1065.0" font-size="6.5" text-anchor="middle" class="t" textLength="14.5" lengthAdjust="spacingAndGlyphs">12:12</text>
<circle cx="766.5" cy="1075.5" r="6.5" class="c"/>
<text x="766.5" y="1078.38" font-size="8.64" text-anchor="middle" class="t" textLength="5.4" lengthAdjust="spacingAndGlyphs">1</text>
<path d="M947.5,1100H987.5" class="w"/>
<path d="M987.5,1100.0L978.5,1102.6L978.5,1097.4Z" fill="#e4e5ea"/>
<text x="963.5" y="1097.5" font-size="6.5" text-anchor="middle" class="t" textLength="14.5" lengthAdjust="spacingAndGlyphs">12:12</text>
<circle cx="963.5" cy="1108" r="6.5" class="c"/>
<text x="963.5" y="1110.88" font-size="8.64" text-anchor="middle" class="t" textLength="5.4" lengthAdjust="spacingAndGlyphs">1</text>
<path d="M872.5,1155V1195" class="w"/>
<path d="M872.5,1195.0L869.9,1186.0L875.1,1186.0Z" fill="#e4e5ea"/>
<text x="870.0" y="1171.0" font-size="6.5" text-anchor="middle" class="t" textLength="14.5" lengthAdjust="spacingAndGlyphs" transform="rotate(-90 870.0 1171.0)">12:12</text>
<circle cx="880.5" cy="1171.0" r="6.5" class="c"/>
<text x="880.5" y="1173.88" font-size="8.64" text-anchor="middle" class="t" textLength="5.4" lengthAdjust="spacingAndGlyphs">1</text>
<path d="M1159.4,997V1037" class="w"/>
<path d="M1159.4,1037.0L1156.8,1028.0L1162.0,1028.0Z" fill="#e4e5ea"/>
<text x="1156.9" y="1013.0" font-size="6.5" text-anchor="middle" class="t" textLength="20.3" lengthAdjust="spacingAndGlyphs" transform="rotate(-90 1156.9 1013.0)">5:12+/-</text>
<circle cx="1167.4" cy="1013.0" r="6.5" class="c"/>
<text x="1167.4" y="1015.88" font-size="8.64" text-anchor="middle" class="t" textLength="5.4" lengthAdjust="spacingAndGlyphs">1</text>
<path d="M1265.6,1008V1048" class="w"/>
<path d="M1265.6,1048.0L1263.0,1039.0L1268.2,1039.0Z" fill="#e4e5ea"/>
<text x="1263.1" y="1024.0" font-size="6.5" text-anchor="middle" class="t" textLength="14.5" lengthAdjust="spacingAndGlyphs" transform="rotate(-90 1263.1 1024.0)">12:12</text>
<circle cx="1273.6" cy="1024.0" r="6.5" class="c"/>
<text x="1273.6" y="1026.88" font-size="8.64" text-anchor="middle" class="t" textLength="5.4" lengthAdjust="spacingAndGlyphs">1</text>
<path d="M1290,1206H1330" class="w"/>
<path d="M1290.0,1206.0L1299.0,1203.4L1299.0,1208.6Z" fill="#e4e5ea"/>
<text x="1314.0" y="1203.5" font-size="6.5" text-anchor="middle" class="t" textLength="14.5" lengthAdjust="spacingAndGlyphs">12:12</text>
<circle cx="1314.0" cy="1214" r="6.5" class="c"/>
<text x="1314.0" y="1216.88" font-size="8.64" text-anchor="middle" class="t" textLength="5.4" lengthAdjust="spacingAndGlyphs">1</text>
<path d="M1518,1220.7H1558" class="w"/>
<path d="M1558.0,1220.7L1549.0,1223.3L1549.0,1218.1Z" fill="#e4e5ea"/>
<text x="1534.0" y="1218.2" font-size="6.5" text-anchor="middle" class="t" textLength="14.5" lengthAdjust="spacingAndGlyphs">12:12</text>
<circle cx="1534.0" cy="1228.7" r="6.5" class="c"/>
<text x="1534.0" y="1231.5800000000002" font-size="8.64" text-anchor="middle" class="t" textLength="5.4" lengthAdjust="spacingAndGlyphs">1</text>
<path d="M1495,880V920" class="w"/>
<path d="M1495.0,880.0L1497.6,889.0L1492.4,889.0Z" fill="#e4e5ea"/>
<text x="1492.5" y="904.0" font-size="6.5" text-anchor="middle" class="t" textLength="14.5" lengthAdjust="spacingAndGlyphs" transform="rotate(-90 1492.5 904.0)">12:12</text>
<circle cx="1503" cy="904.0" r="6.5" class="c"/>
<text x="1503" y="906.88" font-size="8.64" text-anchor="middle" class="t" textLength="5.4" lengthAdjust="spacingAndGlyphs">6</text>
<path d="M1567,947H1607" class="w"/>
<path d="M1607.0,947.0L1598.0,949.6L1598.0,944.4Z" fill="#e4e5ea"/>
<text x="1583.0" y="944.5" font-size="6.5" text-anchor="middle" class="t" textLength="14.5" lengthAdjust="spacingAndGlyphs">12:12</text>
<circle cx="1583.0" cy="955" r="6.5" class="c"/>
<text x="1583.0" y="957.88" font-size="8.64" text-anchor="middle" class="t" textLength="5.4" lengthAdjust="spacingAndGlyphs">6</text>
<path d="M1508,975V1015" class="w"/>
<path d="M1508.0,1015.0L1505.4,1006.0L1510.6,1006.0Z" fill="#e4e5ea"/>
<text x="1505.5" y="991.0" font-size="6.5" text-anchor="middle" class="t" textLength="14.5" lengthAdjust="spacingAndGlyphs" transform="rotate(-90 1505.5 991.0)">12:12</text>
<circle cx="1516" cy="991.0" r="6.5" class="c"/>
<text x="1516" y="993.88" font-size="8.64" text-anchor="middle" class="t" textLength="5.4" lengthAdjust="spacingAndGlyphs">6</text>
<path d="M1114,646H1210" class="w"/>
<path d="M1114.0,646.0L1123.0,643.4L1123.0,648.6Z" fill="#e4e5ea"/>
<path d="M1433,925H1667" class="w"/>
<path d="M1431.0,925.0L1440.0,922.4L1440.0,927.6Z" fill="#e4e5ea"/>
<path d="M1461,925Q1440,927 1431,961" class="w"/>
<path d="M1338.5,948.6H1357.7M1513.5,948.6H1531" class="w"/>
<path d="M1433,972H1475" class="w"/>
<path d="M1477.0,972.0L1468.0,974.6L1468.0,969.4Z" fill="#e4e5ea"/>
<circle cx="1452" cy="963" r="6.5" class="c"/>
<text x="1452" y="965.88" font-size="8.64" text-anchor="middle" class="t" textLength="5.4" lengthAdjust="spacingAndGlyphs">6</text>
<text x="275" y="672" font-size="7.5600000000000005" text-anchor="middle" class="t" textLength="26.8" lengthAdjust="spacingAndGlyphs" transform="rotate(-90 275 672)">RIDGE</text>
<text x="1270" y="658" font-size="7.5600000000000005" text-anchor="middle" class="t" textLength="26.8" lengthAdjust="spacingAndGlyphs" transform="rotate(-90 1270 658)">RIDGE</text>
<text x="325" y="766" font-size="7.0200000000000005" text-anchor="middle" class="t" textLength="29.1" lengthAdjust="spacingAndGlyphs" transform="rotate(-45 325 766)">VALLEY</text>
<circle cx="348" cy="738" r="6.5" class="c"/>
<text x="348" y="740.88" font-size="8.64" text-anchor="middle" class="t" textLength="5.4" lengthAdjust="spacingAndGlyphs">5</text>
<text x="239" y="816" font-size="9.72" text-anchor="middle" class="t" textLength="15.1" lengthAdjust="spacingAndGlyphs">SR</text>
<text x="225" y="842" font-size="9.72" text-anchor="middle" class="t" textLength="15.7" lengthAdjust="spacingAndGlyphs">DR</text>
<text x="189" y="880" font-size="9.72" text-anchor="middle" class="t" textLength="38.7" lengthAdjust="spacingAndGlyphs" transform="rotate(45 189 880)">2x8 HIP</text>
<text x="316" y="880" font-size="9.72" text-anchor="middle" class="t" textLength="67.0" lengthAdjust="spacingAndGlyphs" transform="rotate(45 316 880)">2x10 VALLEY</text>
<circle cx="328" cy="857" r="6.5" class="c"/>
<text x="328" y="859.88" font-size="8.64" text-anchor="middle" class="t" textLength="5.4" lengthAdjust="spacingAndGlyphs">2</text>
<text x="338" y="867" font-size="7.0200000000000005" text-anchor="middle" class="t" textLength="13.1" lengthAdjust="spacingAndGlyphs" transform="rotate(45 338 867)">HIP</text>
<text x="289" y="921" font-size="9.72" text-anchor="middle" class="t" textLength="61.1" lengthAdjust="spacingAndGlyphs">2x10 RIDGE</text>
<text x="182" y="961" font-size="9.72" text-anchor="middle" class="t" textLength="38.7" lengthAdjust="spacingAndGlyphs" transform="rotate(-45 182 961)">2x8 HIP</text>
<text x="317" y="968" font-size="7.0200000000000005" text-anchor="middle" class="t" textLength="29.1" lengthAdjust="spacingAndGlyphs" transform="rotate(-45 317 968)">VALLEY</text>
<circle cx="331" cy="950" r="6.5" class="c"/>
<text x="331" y="952.88" font-size="8.64" text-anchor="middle" class="t" textLength="5.4" lengthAdjust="spacingAndGlyphs">3</text>
<text x="337" y="985" font-size="7.0200000000000005" text-anchor="middle" class="t" textLength="13.1" lengthAdjust="spacingAndGlyphs" transform="rotate(-45 337 985)">HIP</text>
<circle cx="348" cy="975" r="6.5" class="c"/>
<text x="348" y="977.88" font-size="8.64" text-anchor="middle" class="t" textLength="5.4" lengthAdjust="spacingAndGlyphs">2</text>
<text x="225" y="998" font-size="9.72" text-anchor="middle" class="t" textLength="15.7" lengthAdjust="spacingAndGlyphs">DR</text>
<text x="239" y="1040" font-size="9.72" text-anchor="middle" class="t" textLength="15.1" lengthAdjust="spacingAndGlyphs">SR</text>
<text x="273" y="1083" font-size="9.72" text-anchor="middle" class="t" textLength="61.1" lengthAdjust="spacingAndGlyphs" transform="rotate(-90 273 1083)">2x12 RIDGE</text>
<text x="355" y="1105" font-size="7.0200000000000005" text-anchor="middle" class="t" textLength="29.1" lengthAdjust="spacingAndGlyphs" transform="rotate(45 355 1105)">VALLEY</text>
<circle cx="351" cy="1116" r="6.5" class="c"/>
<text x="351" y="1118.88" font-size="8.64" text-anchor="middle" class="t" textLength="5.4" lengthAdjust="spacingAndGlyphs">5</text>
<text x="247" y="1175" font-size="9.18" text-anchor="middle" class="t" textLength="42.3" lengthAdjust="spacingAndGlyphs" transform="rotate(-45 247 1175)">2x10 HIP</text>
<text x="315" y="1177" font-size="9.18" text-anchor="middle" class="t" textLength="42.3" lengthAdjust="spacingAndGlyphs" transform="rotate(45 315 1177)">2x10 HIP</text>
<text x="407" y="1093" font-size="8.64" text-anchor="middle" class="t" textLength="13.4" lengthAdjust="spacingAndGlyphs" transform="rotate(-90 407 1093)">RS</text>
<text x="407" y="785" font-size="8.64" text-anchor="middle" class="t" textLength="13.4" lengthAdjust="spacingAndGlyphs" transform="rotate(-90 407 785)">RS</text>
<text x="450" y="888" font-size="10.260000000000002" text-anchor="middle" class="t" textLength="92.4" lengthAdjust="spacingAndGlyphs">EXTEND VALLEY</text>
<text x="450" y="899" font-size="10.260000000000002" text-anchor="middle" class="t" textLength="38.1" lengthAdjust="spacingAndGlyphs">TO HIP</text>
<path d="M402.8,885H385Q374,885 374,897V916" class="w"/>
<text x="539" y="921" font-size="10.260000000000002" text-anchor="middle" class="t" textLength="64.5" lengthAdjust="spacingAndGlyphs">2x12 RIDGE</text>
<text x="535" y="728.5" font-size="6" text-anchor="middle" class="t" textLength="52" lengthAdjust="spacingAndGlyphs">SLOPE CHANGE</text>
<text x="1150" y="766.5" font-size="6" text-anchor="middle" class="t" textLength="52" lengthAdjust="spacingAndGlyphs">SLOPE CHANGE</text>
<text x="970" y="933.5" font-size="6" text-anchor="middle" class="t" textLength="52" lengthAdjust="spacingAndGlyphs">SLOPE CHANGE</text>
<text x="505" y="598" font-size="9.72" text-anchor="middle" class="t" textLength="15.7" lengthAdjust="spacingAndGlyphs" transform="rotate(-90 505 598)">DR</text>
<text x="541" y="598" font-size="9.72" text-anchor="middle" class="t" textLength="15.7" lengthAdjust="spacingAndGlyphs" transform="rotate(-90 541 598)">DR</text>
<text x="596" y="598" font-size="9.72" text-anchor="middle" class="t" textLength="15.7" lengthAdjust="spacingAndGlyphs" transform="rotate(-90 596 598)">DR</text>
<text x="632" y="598" font-size="9.72" text-anchor="middle" class="t" textLength="15.7" lengthAdjust="spacingAndGlyphs" transform="rotate(-90 632 598)">DR</text>
<text x="927" y="545" font-size="9.72" text-anchor="middle" class="t" textLength="15.7" lengthAdjust="spacingAndGlyphs" transform="rotate(-90 927 545)">DR</text>
<text x="963" y="545" font-size="9.72" text-anchor="middle" class="t" textLength="15.7" lengthAdjust="spacingAndGlyphs" transform="rotate(-90 963 545)">DR</text>
<text x="1018" y="545" font-size="9.72" text-anchor="middle" class="t" textLength="15.7" lengthAdjust="spacingAndGlyphs" transform="rotate(-90 1018 545)">DR</text>
<text x="1054" y="545" font-size="9.72" text-anchor="middle" class="t" textLength="15.7" lengthAdjust="spacingAndGlyphs" transform="rotate(-90 1054 545)">DR</text>
<text x="1107" y="793" font-size="9.72" text-anchor="middle" class="t" textLength="15.7" lengthAdjust="spacingAndGlyphs" transform="rotate(-90 1107 793)">DR</text>
<text x="1112" y="1013" font-size="9.72" text-anchor="middle" class="t" textLength="15.7" lengthAdjust="spacingAndGlyphs" transform="rotate(-90 1112 1013)">DR</text>
<text x="1186" y="1013" font-size="9.72" text-anchor="middle" class="t" textLength="15.7" lengthAdjust="spacingAndGlyphs" transform="rotate(-90 1186 1013)">DR</text>
<text x="1079" y="1013" font-size="8.64" text-anchor="middle" class="t" textLength="13.4" lengthAdjust="spacingAndGlyphs" transform="rotate(-90 1079 1013)">RS</text>
<circle cx="1134" cy="589" r="6.5" class="c"/>
<text x="1134" y="591.88" font-size="8.64" text-anchor="middle" class="t" textLength="5.4" lengthAdjust="spacingAndGlyphs">5</text>
<text x="1186" y="370" font-size="7.0200000000000005" text-anchor="middle" class="t" textLength="13.1" lengthAdjust="spacingAndGlyphs" transform="rotate(45 1186 370)">HIP</text>
<circle cx="1177" cy="380" r="6.5" class="c"/>
<text x="1177" y="382.88" font-size="8.64" text-anchor="middle" class="t" textLength="5.4" lengthAdjust="spacingAndGlyphs">2</text>
<text x="1366" y="370" font-size="7.0200000000000005" text-anchor="middle" class="t" textLength="13.1" lengthAdjust="spacingAndGlyphs" transform="rotate(-45 1366 370)">HIP</text>
<circle cx="1375" cy="383" r="6.5" class="c"/>
<text x="1375" y="385.88" font-size="8.64" text-anchor="middle" class="t" textLength="5.4" lengthAdjust="spacingAndGlyphs">2</text>
<text x="1365" y="759" font-size="7.0200000000000005" text-anchor="middle" class="t" textLength="29.1" lengthAdjust="spacingAndGlyphs" transform="rotate(-45 1365 759)">VALLEY</text>
<circle cx="1372" cy="767" r="6.5" class="c"/>
<text x="1372" y="769.88" font-size="8.64" text-anchor="middle" class="t" textLength="5.4" lengthAdjust="spacingAndGlyphs">3</text>
<circle cx="1197" cy="787" r="6.5" class="c"/>
<text x="1197" y="789.88" font-size="8.64" text-anchor="middle" class="t" textLength="5.4" lengthAdjust="spacingAndGlyphs">3</text>
<text x="1232" y="802" font-size="7.0200000000000005" text-anchor="middle" class="t" textLength="29.1" lengthAdjust="spacingAndGlyphs" transform="rotate(45 1232 802)">VALLEY</text>
<text x="1503" y="802" font-size="7.0200000000000005" text-anchor="middle" class="t" textLength="13.1" lengthAdjust="spacingAndGlyphs" transform="rotate(-45 1503 802)">HIP</text>
<circle cx="1514" cy="788" r="6.5" class="c"/>
<text x="1514" y="790.88" font-size="8.64" text-anchor="middle" class="t" textLength="5.4" lengthAdjust="spacingAndGlyphs">2</text>
<text x="995" y="908.5" font-size="10" text-anchor="middle" class="t" textLength="126" lengthAdjust="spacingAndGlyphs">1.75x12" LVL HIP/RIDGE</text>
<path d="M932,905H915Q885,905 879,924M922,905Q928,912 925,924" class="w"/>
<text x="962" y="962" font-size="10.260000000000002" text-anchor="middle" class="t" textLength="24.9" lengthAdjust="spacingAndGlyphs">2x10</text>
<path d="M949,958H935Q925,958 918,963" class="w"/>
<text x="1012" y="985" font-size="10.260000000000002" text-anchor="middle" class="t" textLength="64.5" lengthAdjust="spacingAndGlyphs">START 2x10</text>
<text x="1012" y="996" font-size="10.260000000000002" text-anchor="middle" class="t" textLength="42.6" lengthAdjust="spacingAndGlyphs">VALLEY</text>
<text x="1012" y="1007" font-size="10.260000000000002" text-anchor="middle" class="t" textLength="31.9" lengthAdjust="spacingAndGlyphs">HERE</text>
<path d="M980,983.5H966Q958,983.5 966,976Q972,969 962,969.5L930,971" class="w"/>
<path d="M928.0,971.0L933.9,968.8L934.1,972.8Z" fill="#e4e5ea"/>
<text x="869" y="1065" font-size="10.260000000000002" text-anchor="middle" class="t" textLength="64.5" lengthAdjust="spacingAndGlyphs" transform="rotate(-90 869 1065)">2x12 RIDGE</text>
<text x="852" y="955" font-size="9.72" text-anchor="middle" class="t" textLength="44.8" lengthAdjust="spacingAndGlyphs" transform="rotate(45 852 955)">2x10 HIP</text>
<text x="888" y="962" font-size="9.72" text-anchor="middle" class="t" textLength="23.6" lengthAdjust="spacingAndGlyphs" transform="rotate(-45 888 962)">2x10</text>
<text x="896" y="970" font-size="9.72" text-anchor="middle" class="t" textLength="18.1" lengthAdjust="spacingAndGlyphs" transform="rotate(-45 896 970)">HIP</text>
<text x="724" y="1016" font-size="7.0200000000000005" text-anchor="middle" class="t" textLength="29.1" lengthAdjust="spacingAndGlyphs" transform="rotate(-45 724 1016)">VALLEY</text>
<circle cx="736.5" cy="1022" r="6.5" class="c"/>
<text x="736.5" y="1024.88" font-size="8.64" text-anchor="middle" class="t" textLength="5.4" lengthAdjust="spacingAndGlyphs">3</text>
<circle cx="981" cy="1018" r="6.5" class="c"/>
<text x="981" y="1020.88" font-size="8.64" text-anchor="middle" class="t" textLength="5.4" lengthAdjust="spacingAndGlyphs">5</text>
<text x="1007" y="1046" font-size="7.0200000000000005" text-anchor="middle" class="t" textLength="29.1" lengthAdjust="spacingAndGlyphs" transform="rotate(45 1007 1046)">VALLEY</text>
<text x="771" y="1248" font-size="10.260000000000002" text-anchor="middle" class="t" textLength="64.5" lengthAdjust="spacingAndGlyphs" transform="rotate(-90 771 1248)">2x10 RIDGE</text>
<text x="840" y="1172" font-size="9.72" text-anchor="middle" class="t" textLength="44.8" lengthAdjust="spacingAndGlyphs" transform="rotate(-45 840 1172)">2x10 HIP</text>
<text x="907" y="1172" font-size="9.72" text-anchor="middle" class="t" textLength="44.8" lengthAdjust="spacingAndGlyphs" transform="rotate(45 907 1172)">2x10 HIP</text>
<path d="M694.5,1275V1326H727.5" class="w"/>
<path d="M694.5,1273.0L697.1,1282.0L691.9,1282.0Z" fill="#e4e5ea"/>
<text x="730" y="1329" font-size="6" text-anchor="start" class="t" textLength="50" lengthAdjust="spacingAndGlyphs">LINE OF STONE</text>
<path d="M530,1140Q532,1131 546,1131" class="w"/>
<text x="547" y="1135" font-size="6.5" text-anchor="start" class="t" textLength="29" lengthAdjust="spacingAndGlyphs">CRICKET</text>
<text x="1230" y="1076" font-size="7.0200000000000005" text-anchor="middle" class="t" textLength="20.0" lengthAdjust="spacingAndGlyphs">10'-0"</text>
<text x="1230" y="1084.5" font-size="7.0200000000000005" text-anchor="middle" class="t" textLength="32.5" lengthAdjust="spacingAndGlyphs">PLT HGT</text>
<text x="1143" y="1210" font-size="7.0200000000000005" text-anchor="middle" class="t" textLength="26.4" lengthAdjust="spacingAndGlyphs">36" KW</text>
<text x="1305" y="1073.5" font-size="10.260000000000002" text-anchor="middle" class="t" textLength="70.5" lengthAdjust="spacingAndGlyphs">VALLEY BRG</text>
<text x="1305" y="1084.5" font-size="10.260000000000002" text-anchor="middle" class="t" textLength="67.7" lengthAdjust="spacingAndGlyphs">ON DOUBLE</text>
<text x="1303" y="1095.5" font-size="10.260000000000002" text-anchor="middle" class="t" textLength="46.0" lengthAdjust="spacingAndGlyphs">RAFTER</text>
<path d="M1267,1070H1258Q1250,1072 1256,1085L1304,1122" class="w"/>
<path d="M1307.5,1125.0L1300.7,1122.3L1303.2,1119.1Z" fill="#e4e5ea"/>
<text x="1333" y="1142" font-size="9.72" text-anchor="middle" class="t" textLength="15.7" lengthAdjust="spacingAndGlyphs">DR</text>
<text x="1357" y="1080" font-size="7.0200000000000005" text-anchor="middle" class="t" textLength="29.1" lengthAdjust="spacingAndGlyphs" transform="rotate(-45 1357 1080)">VALLEY</text>
<circle cx="1365" cy="1090" r="6.5" class="c"/>
<text x="1365" y="1092.88" font-size="8.64" text-anchor="middle" class="t" textLength="5.4" lengthAdjust="spacingAndGlyphs">3</text>
<text x="1254" y="945" font-size="10.260000000000002" text-anchor="middle" class="t" textLength="64.5" lengthAdjust="spacingAndGlyphs">2x12 RIDGE</text>
<text x="1538" y="869" font-size="9.72" text-anchor="middle" class="t" textLength="15.7" lengthAdjust="spacingAndGlyphs">DR</text>
<text x="1538" y="1033" font-size="9.72" text-anchor="middle" class="t" textLength="15.7" lengthAdjust="spacingAndGlyphs">DR</text>
<text x="1588" y="890" font-size="9.72" text-anchor="middle" class="t" textLength="38.7" lengthAdjust="spacingAndGlyphs" transform="rotate(-45 1588 890)">2x8 HIP</text>
<text x="1595" y="999" font-size="9.72" text-anchor="middle" class="t" textLength="38.7" lengthAdjust="spacingAndGlyphs" transform="rotate(45 1595 999)">2x8 HIP</text>
<text x="1476" y="944" font-size="10.260000000000002" text-anchor="middle" class="t" textLength="64.5" lengthAdjust="spacingAndGlyphs">2x10 RIDGE</text>
<text x="1445" y="892" font-size="7.0200000000000005" text-anchor="middle" class="t" textLength="29.1" lengthAdjust="spacingAndGlyphs" transform="rotate(-45 1445 892)">VALLEY</text>
<circle cx="1452" cy="900" r="6.5" class="c"/>
<text x="1452" y="902.88" font-size="8.64" text-anchor="middle" class="t" textLength="5.4" lengthAdjust="spacingAndGlyphs">5</text>
<text x="1443" y="1005" font-size="7.0200000000000005" text-anchor="middle" class="t" textLength="29.1" lengthAdjust="spacingAndGlyphs" transform="rotate(45 1443 1005)">VALLEY</text>
<circle cx="1453" cy="998" r="6.5" class="c"/>
<text x="1453" y="1000.88" font-size="8.64" text-anchor="middle" class="t" textLength="5.4" lengthAdjust="spacingAndGlyphs">5</text>
<text x="1401" y="978" font-size="9.72" text-anchor="middle" class="t" textLength="44.8" lengthAdjust="spacingAndGlyphs" transform="rotate(45 1401 978)">2x10 HIP</text>
<text x="1490" y="966" font-size="8.64" text-anchor="middle" class="t" textLength="13.4" lengthAdjust="spacingAndGlyphs" transform="rotate(-90 1490 966)">RS</text>
<text x="1477" y="990" font-size="8.64" text-anchor="middle" class="t" textLength="13.4" lengthAdjust="spacingAndGlyphs" transform="rotate(-90 1477 990)">RS</text>
<text x="1724" y="928.5" font-size="10" text-anchor="middle" class="t" textLength="112" lengthAdjust="spacingAndGlyphs">EXTEND LVL RIDGE</text>
<text x="1726" y="939.5" font-size="10.8" text-anchor="middle" class="t" textLength="40.1" lengthAdjust="spacingAndGlyphs">TO HIP</text>
<path d="M1634,731H1698" class="w"/>
<path d="M1634.0,731.0L1643.0,728.4L1643.0,733.6Z" fill="#e4e5ea"/>
<path d="M1626,753H1698" class="w"/>
<path d="M1627.0,753.0L1636.0,750.4L1636.0,755.6Z" fill="#e4e5ea"/>
<text x="1701" y="733.5" font-size="6" text-anchor="start" class="t" textLength="73" lengthAdjust="spacingAndGlyphs">LINE OF BRICK (TYP)</text>
<text x="1701" y="755.5" font-size="6" text-anchor="start" class="t" textLength="80" lengthAdjust="spacingAndGlyphs">LINE OF FRAMING (TYP)</text>
<text x="1424" y="1168" font-size="9.72" text-anchor="middle" class="t" textLength="64.2" lengthAdjust="spacingAndGlyphs" transform="rotate(-90 1424 1168)">1.75x12" LVL</text>
<text x="1437" y="1168" font-size="9.72" text-anchor="middle" class="t" textLength="34.5" lengthAdjust="spacingAndGlyphs" transform="rotate(-90 1437 1168)">RIDGE</text>
<text x="1394" y="1350" font-size="9.72" text-anchor="middle" class="t" textLength="44.8" lengthAdjust="spacingAndGlyphs" transform="rotate(-45 1394 1350)">2x10 HIP</text>
<text x="1465" y="1352" font-size="9.72" text-anchor="middle" class="t" textLength="44.8" lengthAdjust="spacingAndGlyphs" transform="rotate(45 1465 1352)">2x10 HIP</text>
<text x="1815" y="1316" font-size="22" text-anchor="middle" class="tn" textLength="213" lengthAdjust="spacingAndGlyphs">ROOF FRAMING PLAN</text>
<rect x="1708" y="1318.3" width="214" height="1.6" fill="#cfd0d8"/>
<text x="1735.5" y="1332.8" font-size="12" text-anchor="start" class="cy" textLength="158.5" lengthAdjust="spacingAndGlyphs">SCALE: ------------1/4" = 1'-0"</text>
<text x="1737" y="1361.7" font-size="9.5" text-anchor="start" class="t" textLength="29" lengthAdjust="spacingAndGlyphs">NOTES:</text>
<path d="M1737,1363.5H1766" class="w"/>
<text x="1737" y="1378" font-size="10.5" text-anchor="start" class="t" textLength="6" lengthAdjust="spacingAndGlyphs">1)</text>
<text x="1748" y="1378" font-size="10.5" text-anchor="start" class="t" textLength="124" lengthAdjust="spacingAndGlyphs">SEE SHEET D-1 FOR DETAILS.</text>
<text x="1736" y="1389.8" font-size="10.5" text-anchor="start" class="t" textLength="7" lengthAdjust="spacingAndGlyphs">2)</text>
<text x="1750" y="1389.8" font-size="10.5" text-anchor="start" class="t" textLength="134" lengthAdjust="spacingAndGlyphs">DIMENSIONS ARE FROM EXT. OF</text>
<text x="1750" y="1400.8" font-size="10.5" text-anchor="start" class="t" textLength="155" lengthAdjust="spacingAndGlyphs">FRAMING TO CENTER LINE OF RIDGE.</text>
</svg>
</body></html>
